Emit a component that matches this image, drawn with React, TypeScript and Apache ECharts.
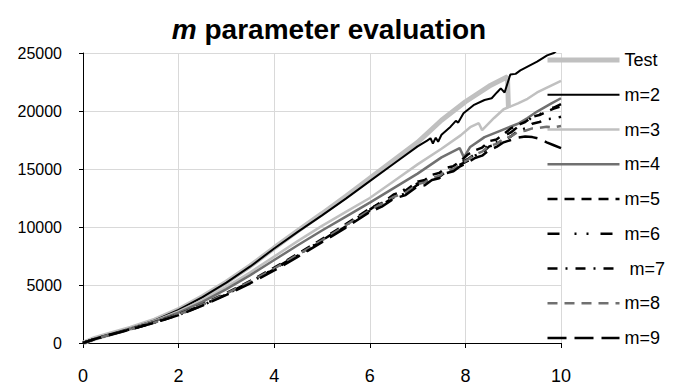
import React, { useEffect, useRef } from 'react';
import * as echarts from 'echarts';

const FONT = '"Liberation Sans", Arial, Helvetica, sans-serif';

const titleText = 'm parameter evaluation';
const xTicks = [0, 2, 4, 6, 8, 10];
const yTicks = [0, 5000, 10000, 15000, 20000, 25000];

const seriesNames = ['Test', 'm=2', 'm=3', 'm=4', 'm=5', 'm=6', 'm=7', 'm=8', 'm=9'];

const testX = [0, 0.25, 0.5, 1, 1.5, 2, 2.5, 3, 3.5, 4, 4.5, 5, 5.5, 6, 6.5, 7, 7.5, 8, 8.5, 8.88, 8.9];
const testY = [0, 400, 700, 1280, 1980, 2880, 4000, 5250, 6650, 8200, 9700, 11150, 12650, 14200, 15750, 17300, 19200, 20800, 22150, 22950, 20300];

const m2X = [0, 0.25, 0.5, 1, 1.5, 2, 2.5, 3, 3.5, 4, 4.5, 5, 5.5, 6, 6.5, 7, 7.2, 7.27, 7.32, 7.38, 7.43, 7.5, 7.69, 7.8, 7.85, 7.96, 8.17, 8.4, 8.55, 8.66, 8.74, 8.82, 8.94, 9.05, 9.15, 9.29, 9.5, 9.71, 9.85, 10];
const m2Y = [0, 380, 680, 1270, 1950, 2850, 3950, 5200, 6600, 8150, 9600, 11000, 12450, 13950, 15450, 16950, 17450, 17650, 17200, 17700, 17350, 17950, 18650, 19150, 19000, 19800, 20500, 20950, 21100, 21600, 21950, 21600, 23150, 23200, 23500, 23800, 24250, 24800, 25000, 25500];

const m3X = [0, 0.25, 0.5, 1, 1.5, 2, 2.5, 3, 3.5, 4, 4.5, 5, 5.5, 6, 6.5, 7, 7.5, 7.9, 8.1, 8.28, 8.35, 8.6, 8.8, 9.1, 9.3, 9.5, 9.75, 10];
const m3Y = [0, 390, 690, 1260, 1900, 2720, 3700, 4850, 6100, 7450, 8800, 10100, 11300, 12500, 13950, 15400, 16750, 17900, 18600, 18950, 18350, 19400, 20150, 20650, 21050, 21600, 22100, 22600];

const m4X = [0, 0.25, 0.5, 1, 1.5, 2, 2.5, 3, 3.5, 4, 4.5, 5, 5.5, 6, 6.5, 7, 7.5, 7.88, 7.97, 8.1, 8.4, 8.7, 9.1, 9.3, 9.5, 9.8, 10];
const m4Y = [0, 370, 670, 1240, 1860, 2620, 3550, 4650, 5850, 7150, 8450, 9700, 10900, 12100, 13350, 14600, 16000, 16800, 16000, 16900, 17750, 18250, 18900, 19400, 19950, 20650, 21100];

const dashX = [0, 0.25, 0.5, 1, 1.5, 2, 2.5, 3, 3.5, 4, 4.5, 5, 5.5, 6, 6.25, 6.5, 6.75, 7, 7.15, 7.3, 7.45, 7.6, 7.75, 7.9, 8.05, 8.2, 8.35, 8.5, 8.65, 8.8, 8.95, 9.1, 9.25, 9.4, 9.55, 9.7, 9.85, 10];
const m5Y = [0, 360, 650, 1210, 1800, 2480, 3330, 4300, 5350, 6500, 7700, 8950, 10250, 11600, 12050, 12800, 13150, 13900, 14050, 14500, 14650, 15100, 15250, 15700, 16250, 16600, 16850, 17400, 17550, 18000, 18500, 18800, 19050, 19500, 19650, 19950, 20200, 20400];
const m6Y = [0, 350, 640, 1190, 1770, 2440, 3280, 4230, 5270, 6400, 7600, 8850, 10150, 11500, 12200, 12650, 13300, 13750, 13900, 14300, 14450, 14950, 15100, 15550, 15850, 16300, 16550, 17150, 17300, 17850, 18150, 18650, 18950, 19500, 19700, 20100, 20300, 20600];
const m7Y = [0, 355, 645, 1200, 1760, 2420, 3250, 4200, 5230, 6350, 7550, 8800, 10050, 11400, 11900, 12550, 12900, 13650, 13750, 14150, 14300, 14800, 14950, 15400, 15700, 16150, 16400, 16950, 17100, 17550, 17800, 18300, 18500, 18900, 19050, 19300, 19350, 19500];
const m8Y = [0, 350, 640, 1195, 1775, 2460, 3300, 4260, 5300, 6420, 7620, 8850, 10150, 11450, 12000, 12600, 12950, 13700, 13850, 14250, 14400, 14850, 15000, 15450, 15800, 16250, 16500, 17000, 17150, 17600, 17800, 18200, 18300, 18500, 18550, 18650, 18600, 18700];
const m9Y = [0, 345, 630, 1180, 1750, 2400, 3220, 4150, 5150, 6250, 7450, 8700, 9950, 11300, 11750, 12450, 12750, 13500, 13600, 14050, 14200, 14650, 14800, 15250, 15550, 15950, 16150, 16650, 16900, 17300, 17500, 17700, 17800, 17750, 17600, 17300, 17050, 16800];

const pair = (xs: number[], ys: number[]) => xs.map((x, i) => [x, ys[i]]);

const seriesData = [
  pair(testX, testY),
  pair(m2X, m2Y),
  pair(m3X, m3Y),
  pair(m4X, m4Y),
  pair(dashX, m5Y),
  pair(dashX, m6Y),
  pair(dashX, m7Y),
  pair(dashX, m8Y),
  pair(dashX, m9Y),
];

const seriesStyles: any[] = [
  { color: '#c0c0c0', width: 5, type: 'solid' },
  { color: '#000000', width: 2, type: 'solid' },
  { color: '#c0c0c0', width: 2.5, type: 'solid' },
  { color: '#707070', width: 2.5, type: 'solid' },
  { color: '#000000', width: 2.5, type: [10, 7] },
  { color: '#000000', width: 2.5, type: [12, 15, 2, 10, 2, 12] },
  { color: '#000000', width: 2.5, type: [10, 8, 2, 8] },
  { color: '#707070', width: 2.5, type: [10, 7] },
  { color: '#000000', width: 2.5, type: [19, 8] },
];

export default function App() {
  const ref = useRef<HTMLDivElement>(null);
  useEffect(() => {
    if (!ref.current) return;
    const chart = echarts.init(ref.current, null, { renderer: 'svg' });
    chart.setOption({
      animation: false,
      title: {
        text: '{i|m} parameter evaluation',
        left: 324,
        textAlign: 'center',
        top: 10,
        textStyle: {
          fontSize: 28,
          fontWeight: 'bold',
          color: '#000',
          fontFamily: FONT,
          rich: {
            i: { fontSize: 28, fontWeight: 'bold', fontStyle: 'italic', color: '#000', fontFamily: FONT },
          },
        },
      },
      legend: {
        orient: 'vertical',
        left: 545,
        top: 51,
        padding: 0,
        itemWidth: 72,
        itemHeight: 18,
        itemGap: 16.75,
        data: seriesNames,
        selectedMode: false,
        itemStyle: { color: 'transparent', borderColor: 'transparent', borderWidth: 0, opacity: 0 },
        lineStyle: { width: 'inherit', type: 'inherit', color: 'inherit' },
        formatter: (name: string) => (name === 'm=7' ? ' ' + name : name),
        textStyle: { fontSize: 18, color: '#000', fontFamily: FONT },
      },
      grid: { left: 83, right: 113, top: 53, bottom: 42, containLabel: false, outerBoundsMode: 'none' },
      xAxis: {
        type: 'value',
        min: xTicks[0],
        max: xTicks[xTicks.length - 1],
        interval: xTicks[1] - xTicks[0],
        axisLine: { show: true, lineStyle: { color: '#000', width: 1 } },
        axisTick: { show: true, length: 5, lineStyle: { color: '#000' } },
        axisLabel: { fontSize: 18, color: '#000', margin: 24, fontFamily: FONT, formatter: (v: number) => String(v) },
        splitLine: { show: true, lineStyle: { color: '#d9d9d9', width: 1 } },
      },
      yAxis: {
        type: 'value',
        min: yTicks[0],
        max: yTicks[yTicks.length - 1],
        interval: yTicks[1] - yTicks[0],
        axisLine: { show: true, lineStyle: { color: '#000', width: 1 } },
        axisTick: { show: true, length: 4, lineStyle: { color: '#000' } },
        axisLabel: { fontSize: 16, color: '#000', margin: 21, fontFamily: FONT, formatter: (v: number) => String(v) },
        splitLine: { show: true, lineStyle: { color: '#d9d9d9', width: 1 } },
      },
      series: seriesNames.map((name, i) => ({
        name,
        type: 'line',
        data: seriesData[i],
        symbol: 'none',
        showSymbol: false,
        clip: true,
        silent: true,
        z: 2 + i,
        itemStyle: { color: seriesStyles[i].color },
        lineStyle: { ...seriesStyles[i] },
        emphasis: { disabled: true },
      })),
    });
    return () => chart.dispose();
  }, []);
  return (
    <div
      ref={ref}
      style={{ position: 'absolute', left: 0, top: 0, width: 674, height: 385, background: '#fff' }}
    />
  );
}
